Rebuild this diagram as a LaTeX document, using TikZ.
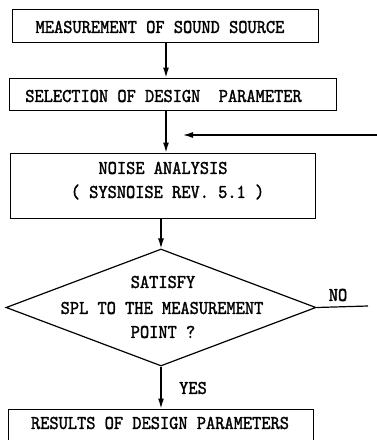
\documentclass[tikz,border=0pt]{standalone}
\usepackage{fontspec}
\setmainfont{lmmono10-regular.otf}[FakeStretch=0.9,FakeBold=1.5]
\usetikzlibrary{arrows.meta,shapes.geometric}
\begin{document}
\begin{tikzpicture}[x=1pt,y=-1pt,
  box/.style={draw,line width=1pt,inner sep=0pt},
  lbl/.style={font=\fontsize{19.5}{24}\selectfont,inner sep=0pt,align=center},
  arr/.style={line width=1.2pt,-{Latex[length=10pt,width=6pt]}},
  ln/.style={line width=1.2pt}]
\useasboundingbox (0,0) rectangle (376,440);
\node[box,minimum width=306pt,minimum height=33pt] (b1) at (165,25.5) {};
\node[lbl] (t1) at (160,27) {MEASUREMENT OF SOUND SOURCE};
\node[box,minimum width=327pt,minimum height=32pt] (b2) at (172.5,94) {};
\node[lbl] (t2) at (163.5,96) {SELECTION OF DESIGN\ \ PARAMETER};
\node[box,minimum width=305pt,minimum height=65pt] (b3) at (162.5,185.5) {};
\node[lbl] (t3a) at (163,168) {NOISE ANALYSIS};
\node[lbl] (t3b) at (167.5,192) {( SYSNOISE REV. 5.1 )};
\node[diamond,draw,line width=1.2pt,inner sep=0pt,minimum width=310pt,minimum height=117pt] (d) at (161,307.5) {};
\node[lbl] (dt1) at (163,282) {SATISFY};
\node[lbl] (dt2) at (162,308) {SPL TO THE MEASUREMENT};
\node[lbl] (dt3) at (163,332) {POINT ?};
\node[box,minimum width=305pt,minimum height=50pt] (b4) at (160.5,434) {};
\node[lbl] (t4) at (160,423) {RESULTS OF DESIGN PARAMETERS};
\coordinate (ax) at (166,0);
\coordinate (fbR) at (378,135);
\coordinate (fbL) at (183,135);
\coordinate (noR) at (368,306);
\draw[arr] (b1.south -| ax) -- (b2.north -| ax);
\draw[arr] (b2.south -| ax) -- (b3.north -| ax);
\draw[arr] (fbR) -- (fbL);
\draw[arr] (b3.south -| d.north) -- (d.north);
\draw[ln] (d.east) -- (noR);
\draw[arr] (d.south) -- (b4.north -| d.south);
\node[lbl] (no) at (338,295) {NO};
\node[lbl] (yes) at (193,388) {YES};
\end{tikzpicture}
\end{document}
